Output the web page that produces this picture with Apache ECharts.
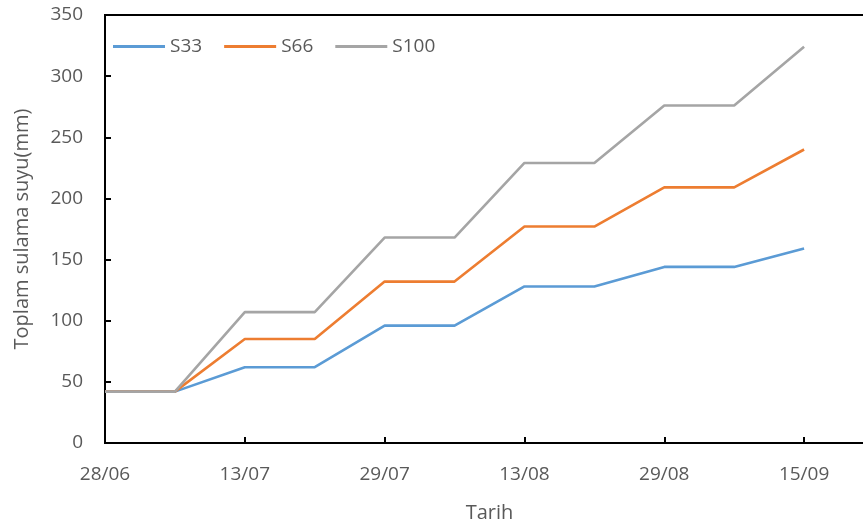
<!DOCTYPE html>
<html>
<head>
<meta charset="utf-8">
<script src="https://cdn.jsdelivr.net/npm/echarts@6/dist/echarts.min.js"></script>
<style>
  html, body { margin: 0; padding: 0; background: #fff; }
  #chart { width: 863px; height: 529px; }
</style>
</head>
<body>
<div id="chart"></div>
<script>
// Irrigation dates (dd/mm)
const dates = ['28/06', '05/07', '13/07', '21/07', '29/07', '05/08', '13/08', '21/08', '29/08', '07/09', '15/09'];
// Cumulative irrigation water (mm) per treatment
const s33  = [42, 42, 62, 62, 96, 96, 128, 128, 144, 144, 159];
const s66  = [42, 42, 85, 85, 132, 132, 177, 177, 209, 209, 240];
const s100 = [42, 42, 107, 107, 168, 168, 229, 229, 276, 276, 324];
const yTicks = [0, 50, 100, 150, 200, 250, 300, 350];

const FONT = 'Open Sans';
const GREY_TEXT = '#595959';

const pairs = arr => arr.map((v, i) => [i, v]);

const chart = echarts.init(document.getElementById('chart'), null, { renderer: 'canvas' });

chart.setOption({
  animation: false,
  backgroundColor: '#fff',
  grid: {
    left: 105, top: 15, bottom: 86, right: -11,
    outerBoundsMode: 'none',
    show: true, borderColor: '#000', borderWidth: 2, backgroundColor: 'transparent'
  },
  legend: {
    left: 108, top: 32,
    itemWidth: 52, itemHeight: 3, itemGap: 22,
    icon: 'rect',
    textStyle: { fontFamily: FONT, fontSize: 19, color: GREY_TEXT },
    data: ['S33', 'S66', 'S100']
  },
  xAxis: {
    type: 'value',
    min: 0, max: 11, interval: 2,
    name: 'Tarih', nameLocation: 'middle', nameGap: 60,
    nameTextStyle: { fontFamily: FONT, fontSize: 20, color: GREY_TEXT },
    axisLine: { show: true, lineStyle: { color: '#000', width: 2 } },
    axisTick: { show: true, inside: true, length: 6, lineStyle: { color: '#000', width: 2 } },
    axisLabel: {
      margin: 22, fontFamily: FONT, fontSize: 19, color: GREY_TEXT,
      showMaxLabel: false,
      formatter: v => (Number.isInteger(v) && dates[v]) ? dates[v] : ''
    },
    splitLine: { show: false }
  },
  yAxis: {
    type: 'value',
    min: yTicks[0], max: yTicks[yTicks.length - 1], interval: yTicks[1] - yTicks[0],
    name: 'Toplam sulama suyu(mm)', nameLocation: 'middle', nameGap: 73, nameRotate: 90,
    nameTextStyle: { fontFamily: FONT, fontSize: 20, color: GREY_TEXT },
    axisLine: { show: true, lineStyle: { color: '#000', width: 2 } },
    axisTick: { show: true, inside: true, length: 6, lineStyle: { color: '#000', width: 2 } },
    axisLabel: { margin: 22, fontFamily: FONT, fontSize: 19, color: GREY_TEXT },
    splitLine: { show: false }
  },
  series: [
    { name: 'S33', type: 'line', data: pairs(s33), showSymbol: false, color: '#5B9BD5', lineStyle: { width: 2.6 } },
    { name: 'S66', type: 'line', data: pairs(s66), showSymbol: false, color: '#ED7D31', lineStyle: { width: 2.6 } },
    { name: 'S100', type: 'line', data: pairs(s100), showSymbol: false, color: '#A5A5A5', lineStyle: { width: 2.6 } }
  ]
});
</script>
</body>
</html>
